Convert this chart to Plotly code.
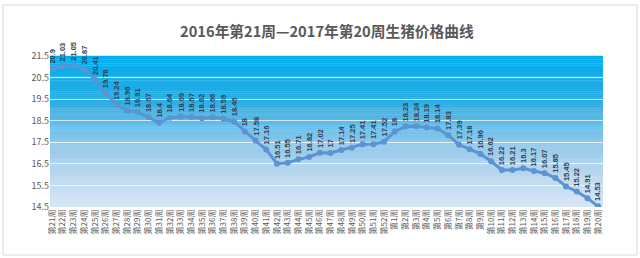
import plotly.graph_objects as go

weeks = [f"第{i}周" for i in range(21, 53)] + [f"第{i}周" for i in range(1, 21)]
prices = [20.9, 21.03, 21.05, 20.87, 20.41, 19.78, 19.24, 18.96, 18.91, 18.67,
          18.4, 18.64, 18.69, 18.67, 18.62, 18.66, 18.59, 18.46, 18, 17.58,
          17.16, 16.51, 16.55, 16.71, 16.82, 17.02, 17, 17.14, 17.25, 17.41,
          17.41, 17.52, 18, 18.23, 18.24, 18.19, 18.14, 17.83, 17.39, 17.18,
          16.96, 16.62, 16.22, 16.21, 16.3, 16.17, 16.07, 15.85, 15.45, 15.22,
          14.91, 14.53]
y_ticks = [14.5, 15.5, 16.5, 17.5, 18.5, 19.5, 20.5, 21.5]
title = "2016年第21周—2017年第20周生猪价格曲线"

FONT = "Noto Sans CJK SC"
xs = list(range(len(weeks)))

L, R, T, B = 50, 37, 56, 51
PW, PH = 640 - L - R, 258 - T - B

fig = go.Figure()
fig.add_trace(go.Scatter(
    x=xs, y=prices, mode="lines+markers",
    line=dict(color="#5b93d3", width=3),
    marker=dict(color="#5b93d3", size=6),
    hoverinfo="skip", showlegend=False,
))

# gradient background
stops = [(0.0, (215, 230, 245)), (0.28, (175, 210, 236)), (0.43, (140, 200, 235)),
         (0.71, (40, 172, 228)), (1.0, (0, 174, 239))]
def col(t):
    for (t0, c0), (t1, c1) in zip(stops[:-1], stops[1:]):
        if t0 <= t <= t1:
            f = (t - t0) / (t1 - t0)
            return "rgb(%d,%d,%d)" % tuple(round(a + (b - a) * f) for a, b in zip(c0, c1))
    return "rgb(%d,%d,%d)" % stops[-1][1]
shapes = []
N = 80
for i in range(N):
    shapes.append(dict(type="rect", xref="x domain", yref="y domain",
                       x0=0, x1=1, y0=i / N, y1=(i + 1) / N + 0.002,
                       fillcolor=col((i + 0.5) / N), line=dict(width=0), layer="below"))
# outer chart frame
fx0, fx1, fy0, fy1 = 3, 637, 5, 255
shapes.append(dict(type="rect", xref="paper", yref="paper",
                   x0=(fx0 - L) / PW, x1=(fx1 - L) / PW,
                   y0=1 - (fy1 - T) / PH, y1=1 - (fy0 - T) / PH,
                   line=dict(color="#d9d9d9", width=1), layer="below"))

annotations = []
for x, v in zip(xs, prices):
    annotations.append(dict(x=x, y=v, xref="x", yref="y", text=f"<b>{v:g}</b>",
                            showarrow=False, textangle=-90, xanchor="center",
                            yanchor="bottom", yshift=3,
                            font=dict(family="Liberation Sans", size=7.5, color="#333f52")))
annotations.append(dict(x=0.5, y=1, xref="paper", yref="paper", yshift=26,
                        text=f"<b>{title}</b>", showarrow=False, xanchor="center",
                        yanchor="middle",
                        font=dict(family=FONT, size=14.7, color="#595959")))

fig.update_layout(
    width=640, height=258,
    margin=dict(l=L, r=R, t=T, b=B),
    paper_bgcolor="white", plot_bgcolor="rgba(0,0,0,0)",
    shapes=shapes, annotations=annotations,
    xaxis=dict(tickmode="array", tickvals=xs, ticktext=weeks, tickangle=-90,
               range=[-0.2, 51.45], showgrid=False, zeroline=False,
               tickfont=dict(family=FONT, size=8, color="#595959"), ticks=""),
    yaxis=dict(range=[14.5, 21.5], tickvals=y_ticks, ticktext=[f"{t:g}" for t in y_ticks],
               showgrid=True, gridcolor="rgba(255,255,255,0.75)", gridwidth=1,
               zeroline=False, tickfont=dict(family=FONT, size=9, color="#595959")),
)
fig.write_html("out.html")
